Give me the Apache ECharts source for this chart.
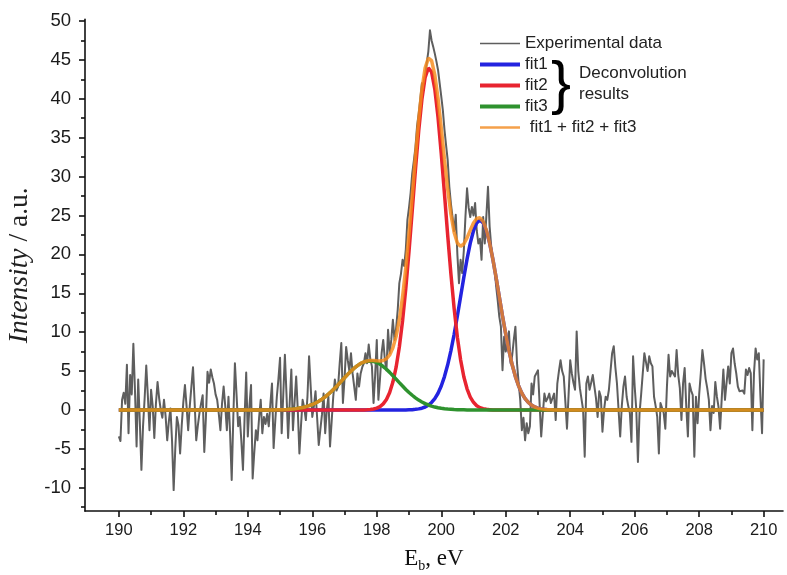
<!DOCTYPE html>
<html><head><meta charset="utf-8">
<script src="https://cdn.jsdelivr.net/npm/echarts@6/dist/echarts.min.js"></script>
<style>html,body{margin:0;padding:0;background:#fff}#c{width:787px;height:575px}</style>
</head><body><div id="c"></div>
<script>
// Experimental spectrum: 190.00 ... 210.00 eV, step 0.05 eV
const expStart = 190, expStep = 0.05;
const expY = [
-3.4,-4.0,1.3,2.2,0.8,5.8,-3.0,4.5,2.0,8.5,
2.5,-4.7,3.9,-1.5,-7.7,-2.1,1.5,5.7,1.8,-2.6,
2.6,0.5,-3.6,0.8,3.6,1.5,0,-1.0,1.3,-0.8,
-3.9,-1.5,0.2,-4.0,-10.3,-5.0,-0.9,-2.0,-5.6,-2.0,
1.0,3.2,0.5,-2.6,0.5,3.0,5.5,1.0,-3.9,-2.0,
-0.4,0.8,1.9,-5.4,-1.0,4.9,3.5,5.2,4.2,3.4,
2.0,1.3,-0.5,-2.6,0.8,3.0,0.5,-2.6,1.7,-3.0,
-9.0,-1.0,6.0,2.0,-2.1,-0.9,-4.0,-7.7,-1.0,4.8,
-3.4,0.5,3.2,-8.8,-5.5,-2.6,-3.9,-1.0,1.3,-3.0,
-0.9,-1.8,-0.5,-2.1,0.8,3.4,-4.9,-1.5,1.7,4.0,
6.7,-3.0,2.0,7.1,2.0,-3.6,1.0,5.2,-2.6,1.0,
4.3,0.0,-5.6,-2.0,1.3,0.3,-1.3,1.7,6.9,3.0,
-0.9,0.5,2.4,-1.0,-4.5,-2.5,-0.6,2.1,-3.0,0.0,
1.7,-4.7,-1.5,1.7,3.9,2.5,3.0,6.0,8.6,0.9,
4.0,8.1,6.4,5.0,7.3,4.7,3.0,1.3,4.7,3.0,
4.7,5.5,6.0,7.3,6.0,8.4,6.5,5.6,0.9,4.5,
9.0,1.3,4.0,7.3,9.0,6.5,5.1,10.3,7.3,9.0,
11.6,9.0,10.5,12.9,16.3,17.5,19.3,18.5,20.6,24.4,
26.0,27.9,30.4,32.0,33.8,36.5,38.1,40.0,42.0,41.1,
43.0,44.6,46.1,48.8,47.5,46.7,45.8,44.8,43.7,42.0,
40.3,38.5,36.0,34.0,32.1,28.7,26.5,24.8,23.0,25.1,
20.0,16.3,19.3,17.6,20.5,24.8,28.5,26.0,24.8,26.1,
25.0,26.6,23.1,21.4,22.0,19.3,24.8,21.4,25.0,28.7,
23.6,21.0,19.3,18.4,16.0,14.1,12.0,10.7,5.1,9.4,
7.5,8.6,10.1,6.0,7.0,9.0,10.7,6.0,3.5,1.3,
-2.6,-1.0,-3.9,-1.7,-3.0,-2.1,3.4,2.0,4.3,4.7,
5.1,4.9,-3.4,-0.5,2.1,1.1,1.5,2.1,0.9,1.5,
2.1,-1.3,3.4,5.0,6.4,5.0,4.3,1.0,-2.4,2.0,
6.4,4.7,3.5,2.6,10.1,5.0,2.8,2.6,0.0,-6.0,
3.4,4.3,2.6,3.5,4.5,4.7,1.5,-0.9,2.4,1.7,
-2.8,0.0,1.7,1.3,2.6,5.0,7.3,8.2,5.5,3.4,
0.0,-3.4,0.5,3.0,4.3,1.7,0.5,-0.4,-4.1,6.9,
3.0,0.0,-6.7,-0.4,2.0,4.7,7.3,7.5,5.0,6.9,
6.0,5.6,1.7,0.5,-0.9,-5.6,0.9,1.0,-0.4,-2.4,
3.0,7.1,4.3,5.0,4.9,4.3,7.7,4.5,2.8,-1.3,
3.4,5.4,0.4,-3.4,3.4,2.5,1.9,-6.0,1.7,-1.7,
2.0,4.7,7.7,6.0,4.0,2.8,1.3,-2.6,0.5,-0.4,
3.6,1.7,0.4,-2.4,1.5,5.2,1.3,3.5,5.6,3.4,
7.3,7.9,6.0,4.7,3.0,2.4,2.6,2.5,2.1,5.2,
4.5,5.4,4.7,-2.6,4.7,7.9,6.5,7.3,1.7,-3.0,
6.5
];

// Fitted components: 194.0 ... 204.0 eV, step 0.1 eV (zero outside, down to 190 and up to 210)
const fitStart = 194, fitStep = 0.1, fitRange = [190, 210];
const fit1 = [
0,0,0,0,0,0,0,0,0,0, 0,0,0,0,0,0,0,0,0,0, 0,0,0,0,0,0,0,0,0,0, 0,0,0,0,0,0,0,0,0,0, 0,0,0,0,0,0,0,0,0,0,
0.02,0.04,0.08,0.14,0.23,0.38,0.62,0.96,1.46,2.15,
3.08,4.29,5.80,7.63,9.73,12.07,14.55,17.04,19.39,21.44,
23.04,24.05,24.4,24.05,23.04,21.44,19.39,17.04,14.55,12.07,
9.73,7.63,5.80,4.29,3.08,2.15,1.46,0.96,0.62,0.38,
0.23,0.14,0.08,0.04,0.02,0,0,0,0,0,
0
];
const fit2 = [
0,0,0,0,0,0,0,0,0,0, 0,0,0,0,0,0,0,0,0,0, 0,0,0,0,0,0,0,0,0,0, 0,0,0,0,0,
0.01,0.01,0.03,0.06,0.12,
0.23,0.43,0.78,1.35,2.24,3.58,5.50,8.10,11.47,15.61,
20.40,25.62,30.92,35.85,39.94,42.75,43.96,43.44,41.24,37.62,
32.96,27.76,22.45,17.45,13.03,9.35,6.44,4.27,2.72,1.66,
0.98,0.55,0.30,0.16,0.08,0.04,0,0,0,0,
0,0,0,0,0,0,0,0,0,0, 0,0,0,0,0,0,0,0,0,0,
0
];
const fit3 = [
0,0,0,0,0,0,0,0,0.01,0.02,
0.03,0.04,0.06,0.09,0.12,0.17,0.24,0.32,0.42,0.55,
0.70,0.89,1.12,1.38,1.69,2.03,2.40,2.81,3.24,3.69,
4.14,4.58,4.99,5.37,5.70,5.97,6.16,6.27,6.30,6.24,
6.09,5.87,5.58,5.23,4.83,4.40,3.96,3.51,3.07,2.64,
2.25,1.89,1.56,1.27,1.03,0.81,0.64,0.49,0.37,0.28,
0.21,0.15,0.11,0.08,0.05,0.04,0.03,0.02,0.01,0.01,
0,0,0,0,0,0,0,0,0,0, 0,0,0,0,0,0,0,0,0,0, 0,0,0,0,0,0,0,0,0,0,
0
];

const xMajorTicks = [190,192,194,196,198,200,202,204,206,208,210];
const xMinorTicks = [191,193,195,197,199,201,203,205,207,209];
const yMajorTicks = [-10,-5,0,5,10,15,20,25,30,35,40,45,50];
const yMinorTicks = [-12.5,-7.5,-2.5,2.5,7.5,12.5,17.5,22.5,27.5,32.5,37.5,42.5,47.5];
const seriesNames = ['Experimental data','fit1','fit2','fit3','fit1 + fit2 + fit3'];

const r2 = v => Math.round(v * 1000) / 1000;
const expData = expY.map((v, i) => [r2(expStart + i * expStep), v]);
function fitSeriesData(arr) {
  const d = [[fitRange[0], 0]];
  arr.forEach((v, j) => d.push([r2(fitStart + j * fitStep), v]));
  d.push([fitRange[1], 0]);
  return d;
}
const sumArr = fit1.map((v, j) => r2(v + fit2[j] + fit3[j]));

const X_MIN = 188.95, X_MAX = 210.6, Y_MIN = -13, Y_MAX = 50.2;
const axisCol = '#111';
const bar = h => 'path://M0,0H40V' + h + 'H0Z';

const chart = echarts.init(document.getElementById('c'), null, {renderer: 'canvas'});
chart.setOption({
  animation: false,
  backgroundColor: '#fff',
  grid: {left: 85, right: 4, top: 19.4, bottom: 63.9, containLabel: false, outerBoundsMode: 'none'},
  xAxis: [{
    type: 'value', min: X_MIN, max: X_MAX, position: 'bottom',
    axisLine: {onZero: false, lineStyle: {color: axisCol, width: 1.6}},
    axisTick: {customValues: xMajorTicks, length: 6, lineStyle: {color: axisCol, width: 1.6}},
    axisLabel: {customValues: xMajorTicks, margin: 11, fontSize: 16.5, color: '#1a1a1a', fontFamily: 'Liberation Sans'},
    splitLine: {show: false},
    name: '{n|E}{s|b}{n|, eV}', nameLocation: 'middle', nameGap: 36,
    nameTextStyle: {rich: {
      n: {fontFamily: 'Liberation Serif', fontSize: 23, color: '#111', lineHeight: 23},
      s: {fontFamily: 'Liberation Serif', fontSize: 14, color: '#111', lineHeight: 14, padding: [15, 0, 0, 0]}
    }}
  }, {
    type: 'value', min: X_MIN, max: X_MAX, position: 'bottom',
    axisLine: {show: false, onZero: false},
    axisTick: {customValues: xMinorTicks, length: 4, lineStyle: {color: axisCol, width: 1.6}},
    axisLabel: {show: false}, splitLine: {show: false}
  }],
  yAxis: [{
    type: 'value', min: Y_MIN, max: Y_MAX, position: 'left',
    axisLine: {show: true, onZero: false, lineStyle: {color: axisCol, width: 1.6}},
    axisTick: {show: true, customValues: yMajorTicks, length: 6, lineStyle: {color: axisCol, width: 1.6}},
    axisLabel: {customValues: yMajorTicks, margin: 14, fontSize: 18.5, color: '#1a1a1a', fontFamily: 'Liberation Sans'},
    splitLine: {show: false},
    name: '{i|Intensity}{r| / a.u.}', nameLocation: 'middle', nameGap: 51,
    nameTextStyle: {rich: {
      i: {fontFamily: 'Liberation Serif', fontSize: 27.5, fontStyle: 'italic', color: '#222'},
      r: {fontFamily: 'Liberation Serif', fontSize: 27.5, color: '#222'}
    }}
  }, {
    type: 'value', min: Y_MIN, max: Y_MAX, position: 'left',
    axisLine: {show: false, onZero: false},
    axisTick: {show: true, customValues: yMinorTicks, length: 4, lineStyle: {color: axisCol, width: 1.6}},
    axisLabel: {show: false}, splitLine: {show: false}
  }],
  legend: {
    orient: 'vertical', left: 480, top: 35, padding: 0,
    itemWidth: 40, itemHeight: 12, itemGap: 4,
    textStyle: {fontSize: 17, fontFamily: 'Liberation Sans', color: '#222'},
    formatter: name => name === seriesNames[4] ? ' ' + name : name,
    data: [
      {name: seriesNames[0], icon: bar(1.6)},
      {name: seriesNames[1], icon: bar(4)},
      {name: seriesNames[2], icon: bar(4)},
      {name: seriesNames[3], icon: bar(4)},
      {name: seriesNames[4], icon: bar(2.6), itemStyle: {color: '#f5a04a'}}
    ]
  },
  graphic: [
    {type: 'text', left: 551, top: 56, style: {text: '}', fontSize: 60, fontFamily: 'Liberation Sans', fill: '#000'}},
    {type: 'text', left: 579, top: 63, style: {text: 'Deconvolution\nresults', fontSize: 17, lineHeight: 21, fill: '#222', fontFamily: 'Liberation Sans'}}
  ],
  series: [
    {name: seriesNames[0], type: 'line', data: expData, symbol: 'none', lineStyle: {color: '#5e5e5e', width: 2, join: 'round'}, itemStyle: {color: '#5e5e5e'}},
    {name: seriesNames[1], type: 'line', data: fitSeriesData(fit1), symbol: 'none', lineStyle: {color: '#2323e0', width: 3.5}, itemStyle: {color: '#2323e0'}},
    {name: seriesNames[2], type: 'line', data: fitSeriesData(fit2), symbol: 'none', lineStyle: {color: '#e82430', width: 3.5}, itemStyle: {color: '#e82430'}},
    {name: seriesNames[3], type: 'line', data: fitSeriesData(fit3), symbol: 'none', lineStyle: {color: '#2e922e', width: 3.5}, itemStyle: {color: '#2e922e'}},
    {name: seriesNames[4], type: 'line', data: fitSeriesData(sumArr), symbol: 'none', lineStyle: {color: '#f78a1a', width: 3.5, opacity: 0.82}, itemStyle: {color: '#f78a1a'}}
  ]
});
</script></body></html>
